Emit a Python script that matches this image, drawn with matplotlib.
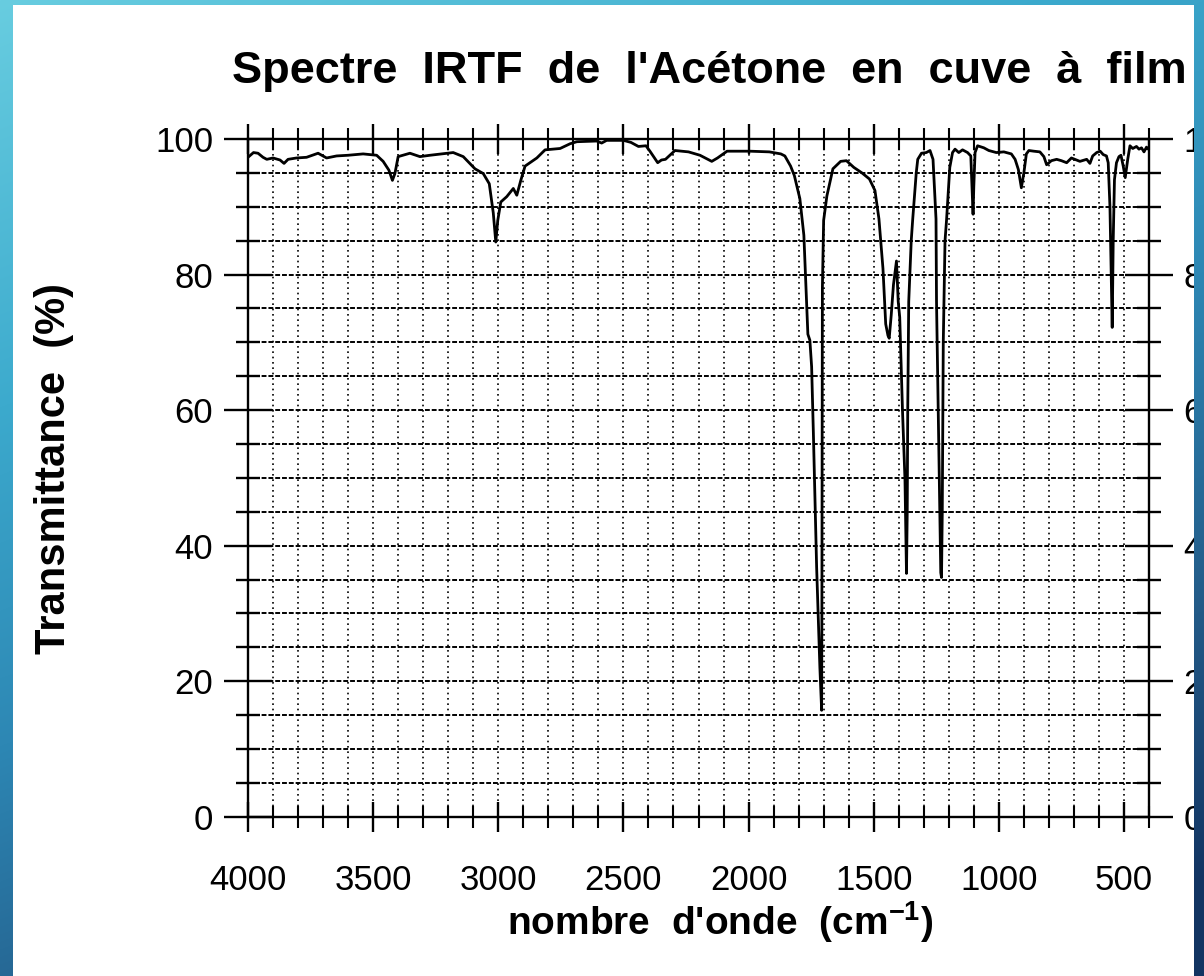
import numpy as np
import matplotlib
matplotlib.use("Agg")
import matplotlib.pyplot as plt
from matplotlib.ticker import MultipleLocator

plt.rcParams["font.family"] = ["Liberation Sans", "DejaVu Sans"]
plt.rcParams["mathtext.default"] = "regular"

# spectre : nombre d'onde (cm-1) / transmittance (%)
wavenumber = [
    4000, 3978, 3960, 3940, 3925, 3900, 3872, 3856, 3840, 3806, 3766, 3720, 3686,
    3646, 3600, 3540, 3486, 3460, 3437, 3423, 3413, 3400, 3353, 3313, 3273, 3206,
    3180, 3140, 3093, 3060, 3036, 3020, 3010, 3002, 2990, 2966, 2940, 2926, 2910,
    2893, 2846, 2813, 2753, 2713, 2686, 2607, 2587, 2567, 2530, 2500, 2470, 2440,
    2410, 2394, 2363, 2348, 2332, 2294, 2240, 2194, 2147, 2124, 2086, 1994, 1917,
    1871, 1855, 1832, 1817, 1795, 1779, 1763, 1755, 1748, 1741, 1728, 1715, 1708,
    1707, 1706, 1705, 1700, 1687, 1663, 1632, 1609, 1579, 1547, 1517, 1495, 1479,
    1463, 1452, 1443, 1438, 1430, 1421, 1409, 1402, 1396, 1385, 1375, 1369, 1366,
    1364, 1360, 1350, 1344, 1330, 1324, 1309, 1290, 1275, 1263, 1251, 1249, 1240,
    1232, 1229, 1226, 1222, 1215, 1209, 1196, 1185, 1175, 1160, 1145, 1125, 1112,
    1106, 1103, 1100, 1095, 1085, 1060, 1040, 1010, 980, 950, 935, 922, 910, 900,
    890, 880, 860, 836, 820, 809, 790, 769, 750, 729, 710, 690, 676, 649, 636, 625,
    609, 595, 583, 570, 563, 556, 550, 547, 543, 538, 530, 520, 512, 503, 495, 485,
    476, 465, 450, 440, 430, 420, 410, 405,
]
transmittance = [
    97.3, 98.0, 97.9, 97.3, 97.0, 97.2, 96.9, 96.4, 97.0, 97.2, 97.3, 97.9, 97.2,
    97.5, 97.6, 97.8, 97.6, 96.7, 95.4, 93.9, 94.9, 97.4, 97.9, 97.4, 97.6, 97.9,
    98.0, 97.4, 95.6, 94.9, 93.4, 89.1, 84.8, 88.0, 90.7, 91.5, 92.7, 91.7, 93.9,
    96.0, 97.2, 98.4, 98.6, 99.3, 99.6, 99.7, 99.4, 99.8, 99.8, 99.8, 99.5, 98.9,
    99.0, 98.2, 96.5, 96.9, 97.0, 98.3, 98.1, 97.6, 96.7, 97.2, 98.2, 98.2, 98.1,
    97.8, 97.5, 96.0, 94.6, 91.2, 85.8, 71.2, 70.3, 66.4, 56.6, 36.8, 22.0, 15.7,
    30.0, 55.0, 78.0, 88.0, 91.6, 95.6, 96.7, 96.8, 95.8, 95.0, 94.1, 92.4, 88.2,
    80.9, 72.7, 71.0, 70.6, 74.0, 78.5, 82.0, 76.0, 73.7, 60.0, 49.7, 35.9, 45.0,
    60.0, 76.0, 85.0, 88.2, 95.0, 97.0, 97.9, 98.0, 98.3, 97.0, 88.2, 76.0, 55.0,
    36.0, 35.3, 45.0, 70.0, 85.0, 88.0, 95.8, 98.0, 98.5, 98.0, 98.4, 98.0, 97.5,
    92.0, 88.9, 93.0, 98.0, 99.0, 98.7, 98.3, 98.0, 98.1, 97.8, 97.0, 95.5, 92.8,
    95.0, 97.8, 98.3, 98.2, 98.1, 97.4, 96.2, 96.8, 97.0, 96.8, 96.5, 97.2, 96.9,
    96.7, 97.0, 96.4, 97.5, 98.0, 98.2, 97.7, 97.5, 96.5, 90.0, 78.0, 72.2, 85.0,
    94.0, 96.5, 97.4, 97.6, 96.0, 94.3, 97.0, 99.0, 98.6, 98.9, 98.5, 98.7, 98.1,
    98.8, 98.6,
]

W, H = 1204, 976
fig = plt.figure(figsize=(W / 100, H / 100), dpi=100)
fig.patch.set_facecolor("white")

ax = fig.add_axes([248 / W, 1 - 816.7 / H, (1149 - 248) / W, (816.7 - 139) / H])
ax.plot(wavenumber, transmittance, color="black", lw=2.0, zorder=3)
ax.set_xlim(4000, 400)
ax.set_ylim(0, 100)

ax.xaxis.set_major_locator(MultipleLocator(500))
ax.xaxis.set_minor_locator(MultipleLocator(100))
ax.yaxis.set_major_locator(MultipleLocator(20))
ax.yaxis.set_minor_locator(MultipleLocator(5))

ax.xaxis.grid(True, which="both", color="black", lw=1.2, ls=(0, (1, 2.2)))
ax.yaxis.grid(True, which="both", color="black", lw=1.4, ls=(0, (2.5, 1)))
ax.set_axisbelow(True)

for s in ax.spines.values():
    s.set_linewidth(1.7)

ax.tick_params(axis="x", which="major", direction="inout", length=22, width=1.7,
               top=True, bottom=True, labelsize=25, pad=23)
ax.tick_params(axis="x", which="minor", direction="inout", length=16, width=1.5,
               top=True, bottom=True)
ax.tick_params(axis="y", which="major", direction="inout", length=34, width=1.7,
               left=True, right=True, labelleft=True, labelright=True,
               labelsize=25, pad=8)
ax.tick_params(axis="y", which="minor", direction="inout", length=17, width=1.7,
               left=True, right=True)
ax.set_xticklabels([f"{int(v)}" for v in ax.get_xticks()])

fig.text(709 / W, 1 - 83 / H, "Spectre  IRTF  de  l'Acétone  en  cuve  à  film",
         ha="center", va="baseline", fontsize=32.5, fontweight="bold")
fig.text(720 / W, 1 - 935 / H, "nombre  d'onde  (cm$^{-1}$)",
         ha="center", va="baseline", fontsize=28, fontweight="bold")
fig.text(54 / W, 1 - 469 / H, "Transmittance  (%)", rotation=90,
         ha="center", va="center", fontsize=30, fontweight="bold")

# cadre bleu en dégradé (par-dessus, cache les étiquettes de droite)
yy, xx = np.mgrid[0:H, 0:W]
t = np.clip(0.35 * xx / W + 0.72 * yy / H, 0, 1)
stops = [0.0, 0.3, 0.55, 0.8, 1.0]
reds = [104, 60, 45, 35, 18]
greens = [205, 170, 135, 90, 52]
blues = [224, 205, 180, 135, 98]
rgba = np.zeros((H, W, 4))
rgba[..., 0] = np.interp(t, stops, reds) / 255
rgba[..., 1] = np.interp(t, stops, greens) / 255
rgba[..., 2] = np.interp(t, stops, blues) / 255
inside = (xx >= 13) & (xx < 1194) & (yy >= 5)
rgba[..., 3] = np.where(inside, 0.0, 1.0)

bg = fig.add_axes([0, 0, 1, 1], zorder=10)
bg.imshow(rgba, aspect="auto", interpolation="nearest")
bg.axis("off")

fig.savefig("out.png", dpi=100)
